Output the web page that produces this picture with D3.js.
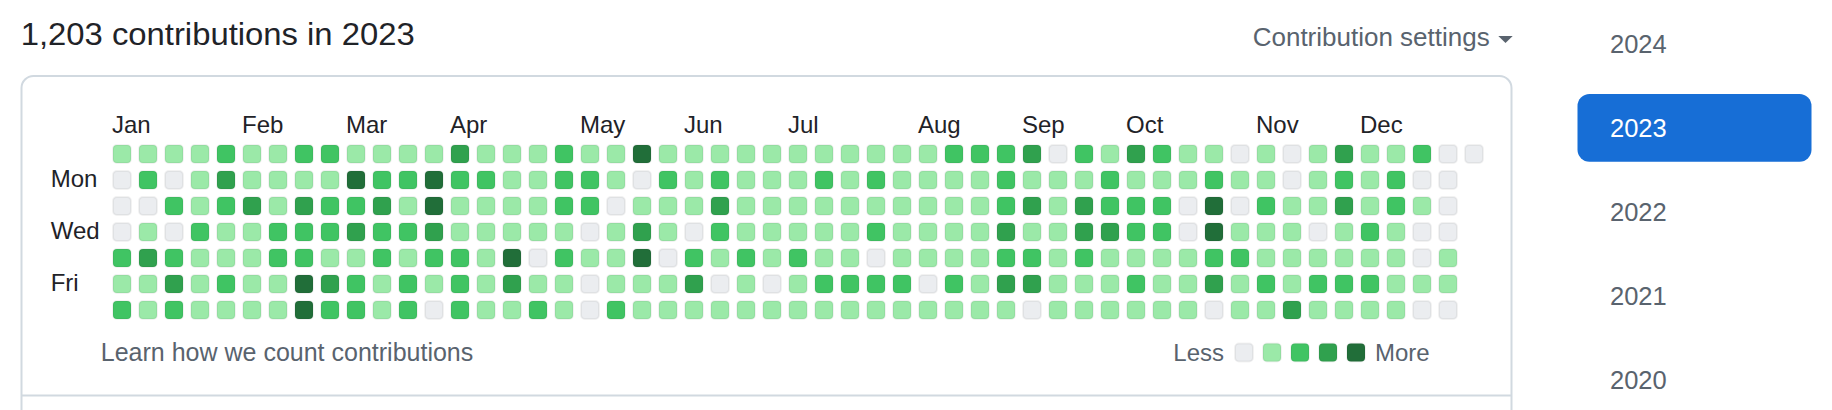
<!DOCTYPE html>
<html><head><meta charset="utf-8">
<script src="https://cdn.jsdelivr.net/npm/d3@7"></script>
<style>body{margin:0;background:#fff}svg{display:block}text{font-family:"Liberation Sans",Arial,sans-serif}</style>
</head><body><div id="chart"></div>
<script>
// ---- data ----
const year = 2023;
const titleText = "1,203 contributions in 2023";
const settingsText = "Contribution settings";
const learnText = "Learn how we count contributions";
// contribution level (0-4) per week column, one array per weekday
const sunLevels = [1,1,1,1,2,1,1,2,2,1,1,1,1,3, 1,1,1,2,1,1,4,1,1,1,1,1,1, 1,1,1,1,1,2,2,2,3,0,2,1,3,2, 1,1,0,1,0,1,3,1,1,2,0,0];
const monLevels = [0,2,0,1,3,1,1,1,1,4,2,2,4,2, 2,1,1,2,2,1,0,2,1,2,1,1,1, 2,1,2,1,1,1,1,2,1,1,1,2,1,1, 1,2,1,1,0,1,2,1,2,0,0];
const tueLevels = [0,0,2,1,2,3,1,3,2,2,3,1,4,1, 1,1,1,2,2,0,1,1,1,3,1,1,1, 1,1,1,1,1,1,1,2,3,1,3,2,2,2, 0,4,0,2,1,1,3,1,2,1,0];
const wedLevels = [0,1,0,2,1,1,2,2,2,3,2,2,3,1, 1,1,1,1,0,1,3,1,0,2,1,1,1, 1,1,2,1,1,1,1,3,1,1,3,3,2,2, 0,4,1,1,1,0,1,2,1,0,0];
const thuLevels = [2,3,2,1,1,1,2,2,1,1,2,1,2,2, 1,4,0,2,1,1,4,0,2,1,2,1,2, 1,1,0,1,1,1,1,2,2,1,2,1,1,1, 1,2,2,1,1,1,1,1,1,0,1];
const friLevels = [1,1,3,1,2,1,1,4,3,2,1,2,1,2, 1,3,1,1,0,1,1,1,3,0,1,0,1, 2,2,2,2,0,2,1,3,3,1,1,1,2,1, 1,3,1,2,1,2,2,2,1,1,1];
const satLevels = [2,1,2,1,1,1,1,4,2,2,1,2,0,2, 1,1,2,1,0,2,1,1,1,1,1,1,1, 1,1,1,1,1,1,1,1,0,1,1,1,1,1, 1,0,1,1,3,1,1,1,1,0,0];
const monthLabels = ["Jan","Feb","Mar","Apr","May","Jun","Jul","Aug","Sep","Oct","Nov","Dec"];
const weekdayLabels = ["","Mon","","Wed","","Fri",""];
const legendLevels = [0,1,2,3,4];
const yearList = ["2024","2023","2022","2021","2020"];
const selectedYear = "2023";
const levelColors = ["#ebedf0","#9be9a8","#40c463","#30a14e","#216e39"];

// ---- build ----
const W = 1832, H = 410;
const svg = d3.select("#chart").append("svg").attr("width", W).attr("height", H);
svg.append("rect").attr("width", W).attr("height", H).attr("fill", "#fff");

const rows = [sunLevels, monLevels, tueLevels, wedLevels, thuLevels, friLevels, satLevels];
const jan1 = new Date(year, 0, 1);
const cells = [];
rows.forEach((arr, r) => arr.forEach((lvl, c) => {
  cells.push({row: r, col: c, level: lvl, date: d3.timeDay.offset(jan1, c * 7 + r)});
}));
const nCols = d3.max(rows, a => a.length);

const x = d3.scaleBand().domain(d3.range(nCols)).range([112, 112 + nCols * 26 - 6]).paddingInner(6 / 26).paddingOuter(0);
const y = d3.scaleBand().domain(d3.range(7)).range([144, 144 + 7 * 26 - 6]).paddingInner(6 / 26).paddingOuter(0);
const color = d3.scaleOrdinal().domain(legendLevels).range(levelColors);

// title
svg.append("text").attr("x", 20.7).attr("y", 45).attr("font-size", 31.5).attr("fill", "#1f2328")
  .attr("textLength", 394).attr("lengthAdjust", "spacingAndGlyphs").text(titleText);
// settings
svg.append("text").attr("x", 1252.7).attr("y", 45.7).attr("font-size", 26).attr("fill", "#59636e").text(settingsText);
svg.append("path").attr("d", d3.line()([[1498.3, 36], [1512.7, 36], [1505.5, 43]])).attr("fill", "#59636e");

// box
svg.append("rect").attr("x", 21.5).attr("y", 76).attr("width", 1490).attr("height", 420).attr("rx", 12)
  .attr("fill", "none").attr("stroke", "#d1d9e0").attr("stroke-width", 2);
svg.append("line").attr("x1", 21.5).attr("x2", 1511.5).attr("y1", 395.5).attr("y2", 395.5)
  .attr("stroke", "#d1d9e0").attr("stroke-width", 2);

// month labels
const monthData = monthLabels.map((m, i) => {
  const firstSun = d3.timeSunday.ceil(new Date(year, i, 1));
  return {label: m, col: Math.floor(d3.timeDay.count(jan1, firstSun) / 7)};
});
svg.append("g").selectAll("text").data(monthData).join("text")
  .attr("x", d => x(d.col)).attr("y", 133.3).attr("font-size", 24).attr("fill", "#1f2328").text(d => d.label);

// weekday labels
svg.append("g").selectAll("text").data(weekdayLabels.map((l, i) => ({l, i})).filter(d => d.l)).join("text")
  .attr("x", 50.7).attr("y", d => y(d.i) + y.bandwidth() / 2 + 7).attr("font-size", 24).attr("fill", "#1f2328").text(d => d.l);

// cells
svg.append("g").selectAll("rect").data(cells).join("rect")
  .attr("x", d => x(d.col) + 1).attr("y", d => y(d.row) + 1)
  .attr("width", x.bandwidth() - 2).attr("height", y.bandwidth() - 2)
  .attr("rx", 4).attr("fill", d => color(d.level))
  .attr("stroke", "rgba(27,31,35,0.06)").attr("stroke-width", 2);

// footer
svg.append("text").attr("x", 100.8).attr("y", 360.7).attr("font-size", 25).attr("fill", "#59636e").text(learnText);
const lx = d3.scaleLinear().domain([0, 1]).range([1234, 1262]);
svg.append("text").attr("x", 1224).attr("y", 360.7).attr("text-anchor", "end").attr("font-size", 24).attr("fill", "#59636e").text("Less");
svg.append("g").selectAll("rect").data(legendLevels).join("rect")
  .attr("x", d => lx(d) + 1).attr("y", 343.5).attr("width", 18).attr("height", 18).attr("rx", 4)
  .attr("fill", d => color(d)).attr("stroke", "rgba(27,31,35,0.06)").attr("stroke-width", 2);
svg.append("text").attr("x", 1375).attr("y", 360.7).attr("font-size", 24).attr("fill", "#59636e").text("More");

// year list
const yy = d3.scalePoint().domain(yearList).range([53.3, 389.3]);
svg.append("rect").attr("x", 1577.5).attr("y", yy(selectedYear) - 43.3).attr("width", 234).attr("height", 67.7)
  .attr("rx", 12).attr("fill", "#176ed6");
svg.append("g").selectAll("text").data(yearList).join("text")
  .attr("x", 1610).attr("y", d => yy(d)).attr("font-size", 25.5)
  .attr("fill", d => d === selectedYear ? "#ffffff" : "#59636e").text(d => d);
</script></body></html>
